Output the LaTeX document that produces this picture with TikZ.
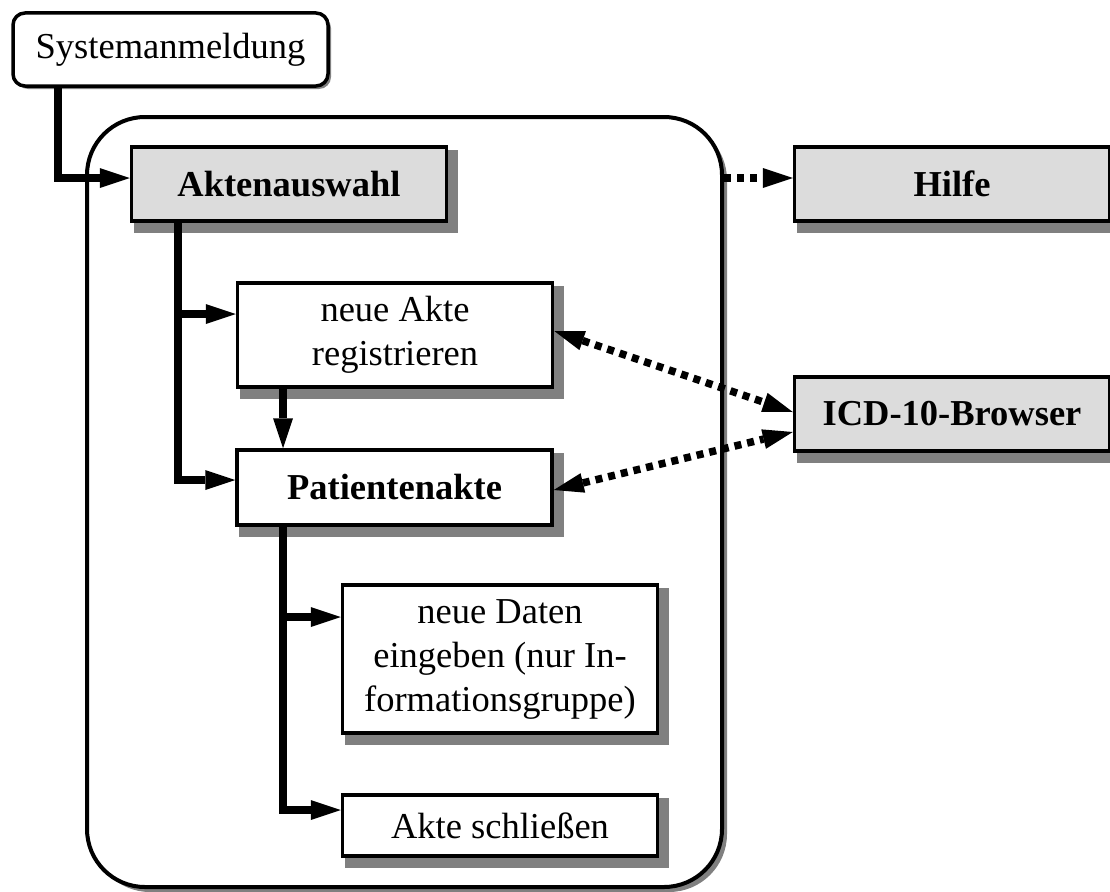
\documentclass[tikz,border=0pt]{standalone}
\usepackage{fontspec}
\setmainfont{Liberation Serif}
\usetikzlibrary{arrows.meta,shadows}
\definecolor{boxgray}{HTML}{DCDCDC}
\definecolor{shadowgray}{HTML}{808080}
\pgfdeclarelayer{frame}
\pgfdeclarelayer{shade}
\pgfsetlayers{frame,shade,main}

\tikzset{
  lbl/.style={font=\fontsize{36.5}{44}\selectfont},
  plainbox/.style={draw, line width=3.5pt, fill=white, minimum width=315pt,
    inner sep=0pt, align=center, lbl},
  boldbox/.style={plainbox, font=\fontsize{36.5}{44}\selectfont\bfseries},
  greybox/.style={boldbox, fill=boxgray},
  flow/.style={line width=7.5pt, -{Triangle[length=30pt,width=20pt,line width=0pt]}},
  dotlink/.style={line width=7.5pt, dash pattern=on 7pt off 6pt,
    -{Triangle[length=30pt,width=20pt,line width=0pt]}},
  dotboth/.style={line width=7.5pt, dash pattern=on 7pt off 6pt,
    {Triangle[length=30pt,width=20pt,line width=0pt]}-{Triangle[length=30pt,width=20pt,line width=0pt]}},
}

\begin{document}
\begin{tikzpicture}[x=1pt,y=-1pt]
\clip (0,0) rectangle (1110,891);

% outer frame around the record workflow
\begin{pgfonlayer}{frame}
  \node[draw, line width=4pt, fill=white, rounded corners=58pt,
    minimum width=635pt, minimum height=770pt, inner sep=0pt,
    drop shadow={shadow xshift=5pt, shadow yshift=-5pt, fill=shadowgray, opacity=1}]
    (frame) at (404.5,502) {};
\end{pgfonlayer}

% login
\node[plainbox, rounded corners=12pt, minimum height=73pt,
  drop shadow={shadow xshift=3pt, shadow yshift=-3pt, fill=shadowgray, opacity=1}]
  (sys) at (170.5,49.5) {Systemanmeldung};

% screens
\node[greybox,  minimum height=74pt]  (akten) at (289,184)     {Aktenauswahl};
\node[greybox,  minimum height=74pt]  (hilfe) at (952,184)     {Hilfe};
\node[plainbox, minimum height=104pt] (neu)   at (395,335)     {neue Akte\\registrieren};
\node[boldbox,  minimum height=75pt]  (pat)   at (394.5,487.5) {Patientenakte};
\node[greybox,  minimum height=74pt]  (icd)   at (952,414)     {ICD-10-Browser};
\node[plainbox, minimum height=148pt] (daten) at (500,659)     {neue Daten\\eingeben (nur In-\\formationsgruppe)};
\node[plainbox, minimum height=61pt]  (zu)    at (500,825.5)   {Akte schließen};

% box shadows
\begin{pgfonlayer}{shade}
  \foreach \b in {akten,hilfe,neu,pat,icd,daten,zu}
    \fill[shadowgray] ([shift={(4,5)}]\b.north west) rectangle ([shift={(10,10)}]\b.south east);
\end{pgfonlayer}

% junction points
\coordinate (j0) at (58,178);
\coordinate (j1) at (178,314);
\coordinate (j2) at (178,480);
\coordinate (j3) at (283,617);
\coordinate (j4) at (283,810);

% solid flow
\draw[flow] (sys.south -| j0) -- (j0) -- (j0 -| akten.west);
\draw[flow] (akten.south -| j2) -- (j2) -- (j2 -| pat.west);
\draw[flow] (j1) -- (j1 -| neu.west);
\draw[flow] (neu.south -| j4) -- (pat.north -| j4);
\draw[flow] (pat.south -| j4) -- (j4) -- (j4 -| zu.west);
\draw[flow] (j3) -- (j3 -| daten.west);

% dotted links to help and ICD browser
\draw[dotlink] (frame.east |- j0) -- (hilfe.west |- j0);
\draw[dotboth] (neu.east |- 0,331) -- (icd.west |- 0,412);
\draw[dotboth] (pat.east |- 0,490) -- (icd.west |- 0,432);
\end{tikzpicture}
\end{document}
